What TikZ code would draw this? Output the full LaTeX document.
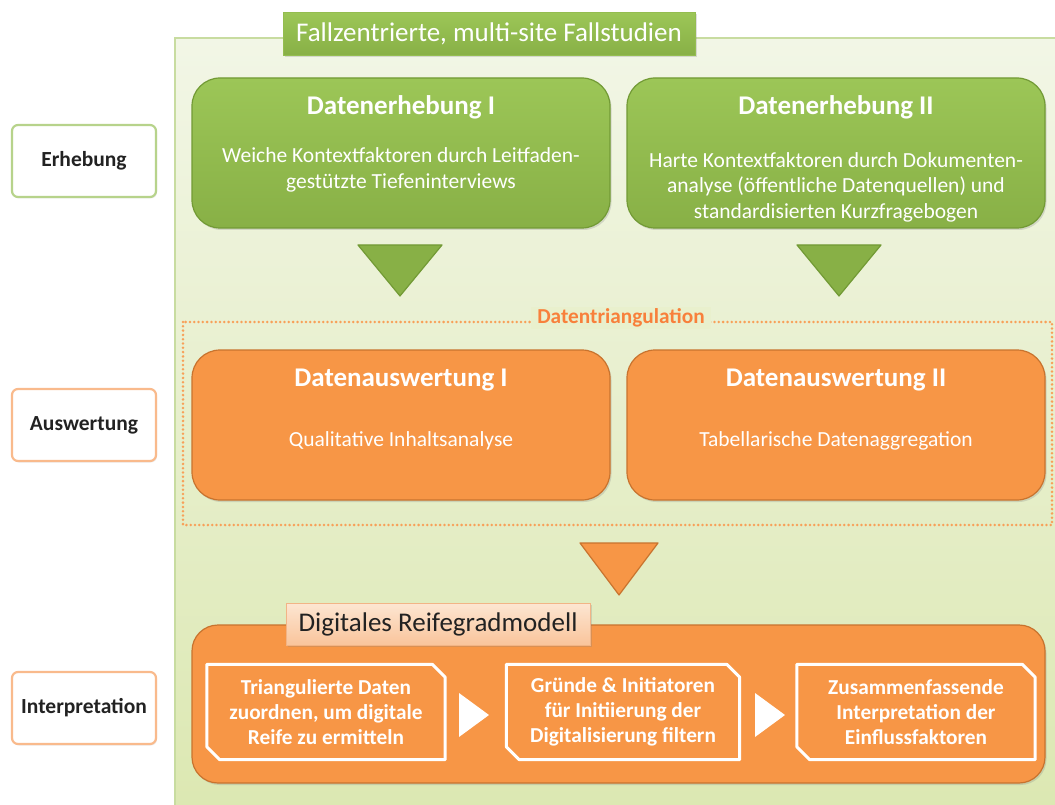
\documentclass[tikz,border=0pt]{standalone}
\usepackage{fontspec}
\setmainfont{Carlito}
\usetikzlibrary{shadows}
\definecolor{gpale}{HTML}{F2F6E6}
\definecolor{gbot}{HTML}{DCE8B2}
\definecolor{gborder}{HTML}{C8DCA0}
\definecolor{gtop}{HTML}{9CC657}
\definecolor{gbotb}{HTML}{88B046}
\definecolor{gdark}{HTML}{729A35}
\definecolor{obox}{HTML}{F79646}
\definecolor{odark}{HTML}{C8732E}
\definecolor{otabtop}{HTML}{FDE6D2}
\definecolor{otabbot}{HTML}{F9C49B}
\definecolor{otabb}{HTML}{F2B486}
\definecolor{lgreen}{HTML}{B7D38B}
\definecolor{lorange}{HTML}{F9BA8C}
\definecolor{trilab}{HTML}{E9F0CD}
\definecolor{txtdark}{HTML}{222222}
\begin{document}
\begin{tikzpicture}[x=1pt,y=-1pt,
  shade1/.style={drop shadow={opacity=0.25,shadow xshift=1.5pt,shadow yshift=-2pt}},
  gbox/.style={draw=gdark,line width=1.2pt,top color=gtop,bottom color=gbotb,rounded corners=28pt,minimum width=418pt,minimum height=150pt,shade1},
  obox/.style={draw=odark,line width=1.2pt,fill=obox,rounded corners=28pt,minimum width=418pt,minimum height=150pt,shade1},
  hd/.style={text=white,font=\fontsize{27}{30}\selectfont\bfseries,align=center},
  bd/.style={text=white,font=\fontsize{21.5}{25.5}\selectfont,align=center},
  side/.style={draw=#1,line width=2.2pt,fill=white,rounded corners=6pt,minimum width=144pt,minimum height=72pt,font=\fontsize{21.5}{24}\selectfont\bfseries,text=txtdark,drop shadow={opacity=0.15,shadow xshift=1pt,shadow yshift=-1.5pt}},
  inner/.style={minimum width=#1,minimum height=95pt,text=white,font=\fontsize{21.3}{25}\selectfont\bfseries,align=center,inner sep=0pt},
  snip/.style={draw=white,line width=3pt,line join=round},
  gtri/.style={fill=gbotb,draw=gdark,line width=1.2pt,line join=round},
  otri/.style={fill=obox,draw=odark,line width=1.2pt,line join=round},
  wtri/.style={fill=white}
]
\useasboundingbox (0,0) rectangle (1055,805);
% big panel
\fill[top color=gpale,bottom color=gbot] (175,38) rectangle (1058,808);
\draw[gborder,line width=1.5pt] (1058,38) -- (175,38) -- (175,808);
% title tab
\node[draw=gtop!80!gdark,line width=0.6pt,top color=gtop,bottom color=gbotb,minimum width=412pt,minimum height=43pt,text=white,font=\fontsize{27}{30}\selectfont,shade1] (title) at (489,34) {Fallzentrierte, multi-site Fallstudien};
% side labels
\node[side=lgreen] (erh) at (84,161) {Erhebung};
\node[side=lorange] (ausw) at (84,425) {Auswertung};
\node[side=lorange] (interp) at (84,708) {Interpretation};
% Datenerhebung boxes
\node[gbox] (e1) at (401,153) {};
\node[gbox] (e2) at (836,153) {};
\node[hd] (e1h) at (401,107) {Datenerhebung I};
\node[bd] (e1b) at (401,170) {Weiche Kontextfaktoren durch Leitfaden-\\gestützte Tiefeninterviews};
\node[hd] (e2h) at (836,107) {Datenerhebung II};
\node[bd] (e2b) at (836,187) {Harte Kontextfaktoren durch Dokumenten-\\analyse (öffentliche Datenquellen) und\\standardisierten Kurzfragebogen};
% green triangles
\draw[gtri] (358,245) -- (442,245) -- (400,296) -- cycle;
\draw[gtri] (797,245) -- (881,245) -- (839,296) -- cycle;
% triangulation frame
\draw[obox!90!white,line width=2.8pt,line cap=round,dash pattern=on 0pt off 4.3pt] (183,322) rectangle (1052,525);
\node[fill=trilab,inner xsep=6pt,inner ysep=2pt,text=obox!85!red,font=\fontsize{21.3}{24}\selectfont\bfseries] (tri) at (621,318) {Datentriangulation};
% Datenauswertung boxes
\node[obox] (a1) at (401,425) {};
\node[obox] (a2) at (836,425) {};
\node[hd] (a1h) at (401,380) {Datenauswertung I};
\node[bd] (a1b) at (401,441) {Qualitative Inhaltsanalyse};
\node[hd] (a2h) at (836,380) {Datenauswertung II};
\node[bd] (a2b) at (836,441) {Tabellarische Datenaggregation};
% orange triangle
\draw[otri] (580,543) -- (658,543) -- (619,595) -- cycle;
% bottom panel
\node[draw=odark,line width=1.2pt,fill=obox,rounded corners=26pt,minimum width=853pt,minimum height=158pt,shade1] (rg) at (618.5,704) {};
\node[draw=otabb,line width=0.8pt,top color=otabtop,bottom color=otabbot,minimum width=304pt,minimum height=42pt,text=txtdark,font=\fontsize{27}{30}\selectfont,shade1] (rgt) at (438,624) {Digitales Reifegradmodell};
% inner boxes
\node[inner=238pt] (b1) at (326,712) {Triangulierte Daten\\zuordnen, um digitale\\Reife zu ermitteln};
\node[inner=233pt] (b2) at (623,712) {Gründe \& Initiatoren\\für Initiierung der\\Digitalisierung filtern};
\node[inner=238pt] (b3) at (916,712) {Zusammenfassende\\Interpretation der\\Einflussfaktoren};
\foreach \b in {b1,b2,b3}{
  \draw[snip] (\b.north west) -- ([xshift=-13pt]\b.north east) -- ([yshift=-13pt]\b.north east) -- (\b.south east) -- ([xshift=13pt]\b.south west) -- ([yshift=13pt]\b.south west) -- cycle;
}
% white arrows
\fill[wtri] (459,693) -- (489,715) -- (459,737) -- cycle;
\fill[wtri] (755,693) -- (785,715) -- (755,737) -- cycle;
\end{tikzpicture}
\end{document}
